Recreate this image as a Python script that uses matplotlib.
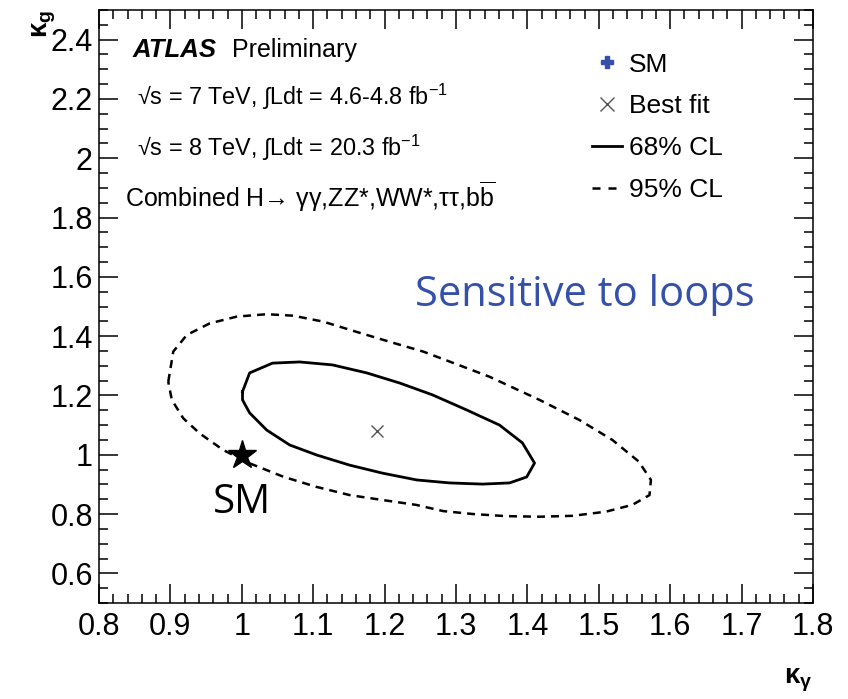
import matplotlib
matplotlib.use("Agg")
import matplotlib.pyplot as plt
from matplotlib.lines import Line2D
from matplotlib.ticker import MultipleLocator

plt.rcParams['font.family'] = ['Liberation Sans', 'DejaVu Sans']
plt.rcParams['mathtext.fontset'] = 'custom'
plt.rcParams['mathtext.rm'] = 'Liberation Sans'
plt.rcParams['mathtext.it'] = 'Liberation Sans:italic'

# ---------------- data ----------------
# 68% CL contour
cl68_x = [1.001, 1.011, 1.043, 1.081, 1.127, 1.175, 1.221, 1.267, 1.315, 1.361,
          1.393, 1.410, 1.399, 1.375, 1.337, 1.291, 1.245, 1.197, 1.151, 1.105,
          1.067, 1.035, 1.011, 1.001]
cl68_y = [1.213, 1.276, 1.309, 1.313, 1.303, 1.276, 1.242, 1.202, 1.151, 1.100,
          1.040, 0.972, 0.925, 0.905, 0.901, 0.905, 0.915, 0.938, 0.965, 0.999,
          1.033, 1.083, 1.141, 1.185]

# 95% CL contour
cl95_x = [0.897, 0.904, 0.923, 0.955, 0.993, 1.035, 1.072, 1.114, 1.160, 1.207,
          1.254, 1.310, 1.347, 1.417, 1.473, 1.519, 1.556, 1.573, 1.571, 1.547,
          1.510, 1.463, 1.417, 1.370, 1.324, 1.282, 1.244, 1.198, 1.151, 1.104,
          1.058, 1.011, 0.974, 0.941, 0.918, 0.902]
cl95_y = [1.246, 1.348, 1.404, 1.443, 1.466, 1.474, 1.469, 1.449, 1.415, 1.381,
          1.348, 1.297, 1.263, 1.185, 1.117, 1.050, 0.977, 0.915, 0.864, 0.831,
          0.808, 0.794, 0.791, 0.793, 0.800, 0.810, 0.831, 0.847, 0.864, 0.892,
          0.926, 0.971, 1.016, 1.072, 1.123, 1.185]

best_fit = (1.19, 1.08)
sm_point = (1.0, 1.0)

blue = '#3550a8'

# ---------------- figure ----------------
fig = plt.figure(figsize=(8.48, 6.99), dpi=100)
ax = fig.add_axes([99/848, 1-603/699, 714/848, 593/699])

ax.plot(cl68_x + cl68_x[:1], cl68_y + cl68_y[:1], color='black', lw=2.0)
ax.plot(cl95_x + cl95_x[:1], cl95_y + cl95_y[:1], color='black', lw=1.8, dashes=(3.2, 2.4))
ax.plot(*best_fit, marker='x', color='#555555', ms=9, mew=1.0, ls='none')
ax.plot(*sm_point, marker='*', color='black', ms=21, ls='none')

ax.set_xlim(0.8, 1.8)
ax.set_ylim(0.5, 2.5)
ax.xaxis.set_major_locator(MultipleLocator(0.1))
ax.xaxis.set_minor_locator(MultipleLocator(0.02))
ax.yaxis.set_major_locator(MultipleLocator(0.2))
ax.yaxis.set_minor_locator(MultipleLocator(0.05))
ax.xaxis.set_major_formatter(plt.FuncFormatter(lambda v, p: ('%g' % round(v, 2))))
ax.yaxis.set_major_formatter(plt.FuncFormatter(lambda v, p: ('%g' % round(v, 2))))
ax.tick_params(which='both', direction='in', top=True, right=True, width=1.1)
ax.tick_params(which='major', length=13.5, labelsize=22)
ax.tick_params(which='minor', length=6.5)
ax.tick_params(axis='x', pad=6.5)
ax.tick_params(axis='y', pad=4.5)
for s in ax.spines.values():
    s.set_linewidth(1.1)

# axis titles
ax.text(-0.077, 1.0, r'κ$_{\mathregular{g}}$', transform=ax.transAxes, rotation=90,
        fontsize=20, fontweight='bold', ha='center', va='top')
ax.text(0.98, -0.13, r'κ$_{\mathregular{γ}}$', transform=ax.transAxes,
        fontsize=20, fontweight='bold', ha='center', va='center')

# ATLAS labels
ax.text(0.0476, 0.9325, 'ATLAS', transform=ax.transAxes, fontsize=18.5,
        fontweight='bold', fontstyle='italic', va='center', ha='left')
ax.text(0.186, 0.9325, 'Preliminary', transform=ax.transAxes, fontsize=18,
        va='center', ha='left')
ax.text(0.053, 0.853, r'√s = 7 TeV, ∫Ldt = 4.6-4.8 fb$^{-1}$', transform=ax.transAxes,
        fontsize=16.8, va='center', ha='left')
ax.text(0.053, 0.767, r'√s = 8 TeV, ∫Ldt = 20.3 fb$^{-1}$', transform=ax.transAxes,
        fontsize=16.8, va='center', ha='left')
ax.text(0.036, 0.685, r'Combined H→ γγ,ZZ*,WW*,ττ,b$\overline{\mathregular{b}}$',
        transform=ax.transAxes, fontsize=18, va='center', ha='left')

# annotations
ax.text(0.4426, 0.5008, 'Sensitive to loops', transform=ax.transAxes, color=blue,
        fontsize=30, family='Open Sans', ha='left', va='baseline')
ax.text(1.0, 0.8035, 'SM', fontsize=29, family='Open Sans', ha='center', va='baseline')

# legend
handles = [
    Line2D([], [], marker='P', color=blue, ms=8, ls='none'),
    Line2D([], [], marker='x', color='#555555', ms=10, mew=1.0, ls='none'),
    Line2D([], [], color='black', lw=2.0),
    Line2D([], [], color='black', lw=1.8, dashes=(3.2, 3.2)),
]
labels = ['SM', 'Best fit', '68% CL', '95% CL']
ax.legend(handles, labels, loc='upper left', bbox_to_anchor=(0.69, 0.928),
          frameon=False, fontsize=19, handlelength=1.15, handletextpad=0.25,
          labelspacing=0.67, borderpad=0, borderaxespad=0)

fig.savefig('out.png', dpi=100)
